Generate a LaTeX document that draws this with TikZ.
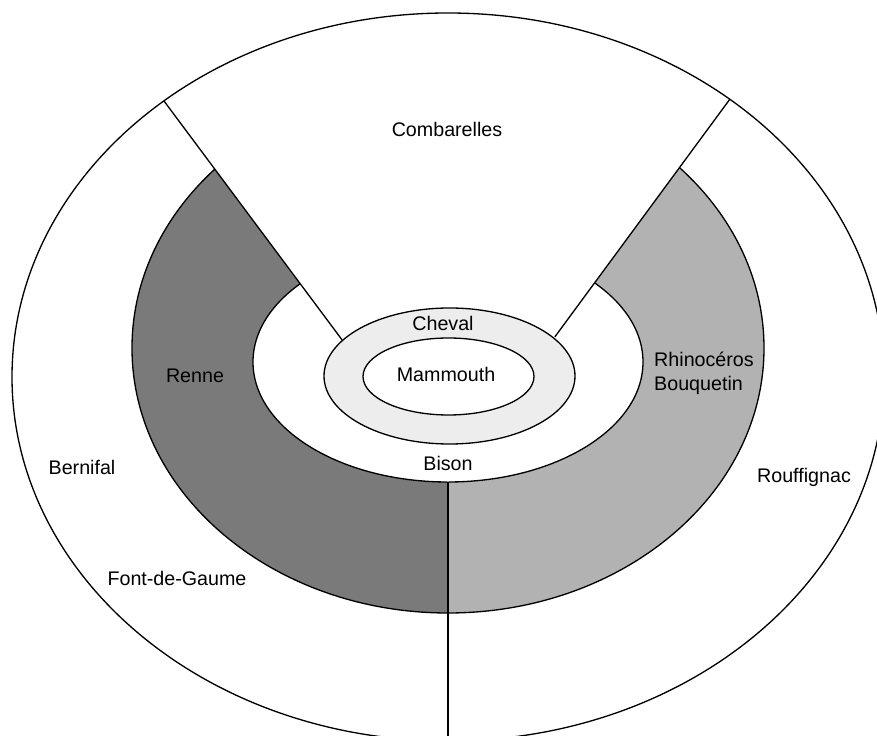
\documentclass[tikz,border=0pt]{standalone}
\usepackage{fontspec}
\setmainfont{Liberation Sans}
\usetikzlibrary{calc}
\definecolor{ringdark}{gray}{0.48}
\definecolor{ringlight}{gray}{0.70}
\definecolor{chevalgray}{gray}{0.93}
\def\RingRx{316}
\def\RingRy{265}
\tikzset{
  edge line/.style={line width=0.75pt},
  zone label/.style={font=\fontsize{11.2}{13.6}\selectfont, inner sep=0pt, align=left}
}
\begin{document}
\begin{tikzpicture}[x=0.02cm,y=0.02cm]
  \useasboundingbox (0,0) rectangle (877,-736);
  \clip (0,0) rectangle (877,-736);

  \coordinate (centre) at (448,-377);
  \coordinate (ringcentre) at (448,-348);
  \coordinate (apex) at (448,-482);
  \coordinate (cutL) at (164,-101);
  \coordinate (cutR) at (730,-99);
  \coordinate (foot) at (448,-745);
  \coordinate (chevL) at ($(apex)!0.373!(cutL)$);
  \coordinate (chevR) at ($(apex)!0.379!(cutR)$);

  % ring, dark on the left and light on the right
  \begin{scope}
    \clip (0,0) rectangle (448,-736);
    \fill[ringdark] (ringcentre) ellipse [x radius=\RingRx, y radius=\RingRy];
  \end{scope}
  \begin{scope}
    \clip (448,0) rectangle (877,-736);
    \fill[ringlight] (ringcentre) ellipse [x radius=\RingRx, y radius=\RingRy];
  \end{scope}
  \draw[edge line] (ringcentre) ellipse [x radius=\RingRx, y radius=\RingRy];
  \filldraw[edge line, fill=white] (448,-362) ellipse [x radius=195, y radius=120];

  % Combarelles sector cut out of the ring
  \fill[white] (apex) -- ($(apex)!1.3!(cutL)$) -- ($(apex)!1.3!(cutR)$) -- cycle;
  \draw[edge line] (chevL) -- (cutL);
  \draw[edge line] (chevR) -- (cutR);
  \draw[edge line] (apex) -- (foot);
  \draw[edge line] (centre) ellipse [x radius=436, y radius=364];

  \filldraw[edge line, fill=chevalgray] (449.5,-376) ellipse [x radius=125.5, y radius=68];
  \filldraw[edge line, fill=white] (448.5,-376.5) ellipse [x radius=85.5, y radius=38.5];

  \node[zone label] (combarelles) at (447,-129) {Combarelles};
  \node[zone label] (cheval) at (443,-323) {Cheval};
  \node[zone label] (mammouth) at (446,-374) {Mammouth};
  \node[zone label] (bison) at (448,-463) {Bison};
  \node[zone label] (renne) at (195,-376) {Renne};
  \node[zone label] (rhino) at (704,-373) {Rhinocéros\\Bouquetin};
  \node[zone label] (bernifal) at (82,-467) {Bernifal};
  \node[zone label] (rouffignac) at (804,-477) {Rouffignac};
  \node[zone label] (fontdegaume) at (177,-578) {Font-de-Gaume};
\end{tikzpicture}
\end{document}
